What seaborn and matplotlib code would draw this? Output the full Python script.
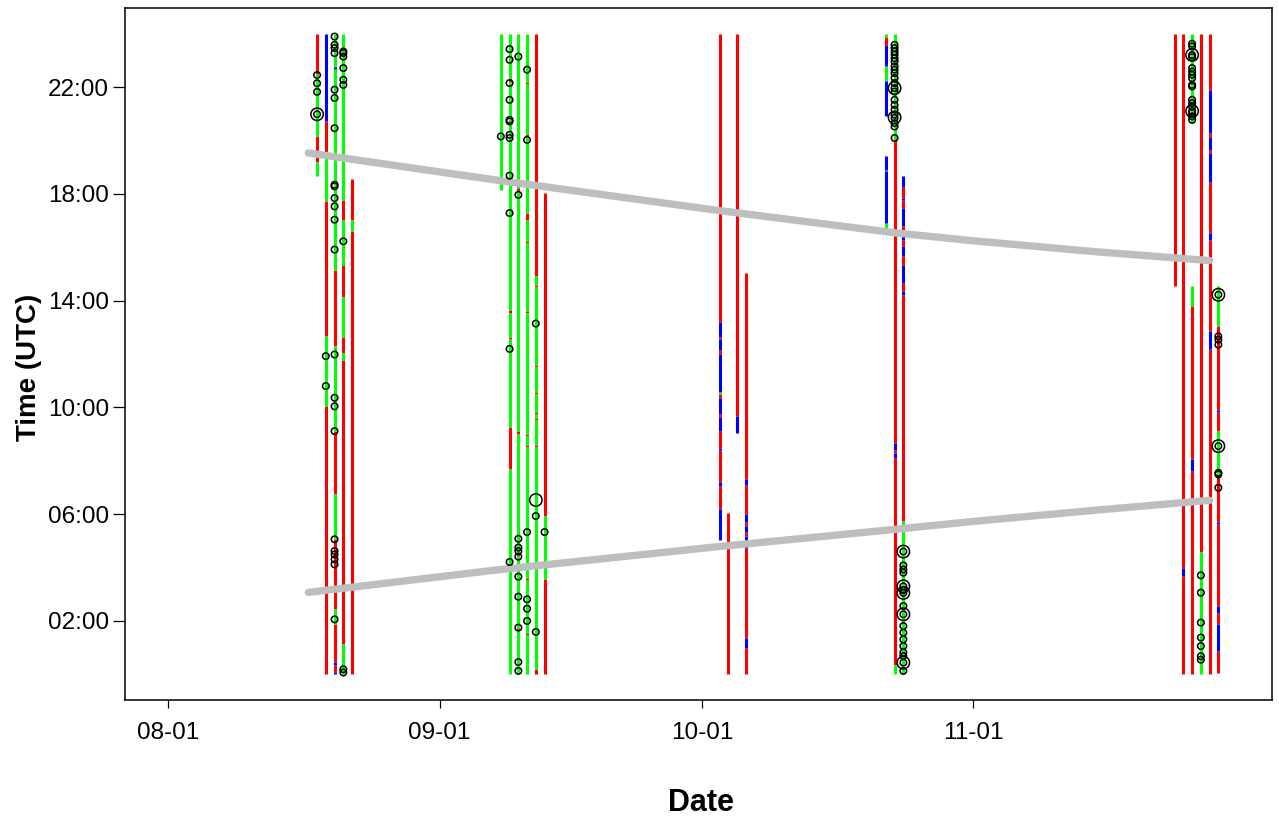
import numpy as np
import pandas as pd
import matplotlib
matplotlib.use("Agg")
import matplotlib.pyplot as plt
import seaborn as sns

YEAR = 2021

# Daily activity columns: hour breakpoints (top to bottom) and the state of each piece
# R = red, G = green, B = blue, '-' = no record
col_dates = [
    "08-18", "08-19", "08-20", "08-21", "08-22",
    "09-08", "09-09", "09-10", "09-11", "09-12", "09-13",
    "10-03", "10-04", "10-05", "10-06",
    "10-22", "10-23", "10-24",
    "11-24", "11-25", "11-26", "11-27", "11-28", "11-29",
]
col_breaks = [
    [24, 22.5, 20.15, 19.2, 18.65],
    [24, 20.71, 19.4, 17.72, 12.66, 10.04, 0],
    [24, 22.75, 22.68, 15.16, 12.29, 9.11, 6.74, 5.06, 2.44, 1.87, 0.45, 0.34, 0.1, 0],
    [24, 17.78, 17.03, 15.34, 14.15, 12.65, 12.05, 11.79, 1.12, 0],
    [18.55, 17.03, 16.59, 0],
    [24, 18.15],
    [24, 22.32, 22.2, 13.65, 13.55, 12.65, 12.55, 9.27, 7.68, 0],
    [24, 18.2, 18.05, 9.1, 9.0, 4.55, 4.45, 1.75, 1.65, 0],
    [24, 22.2, 22.1, 20.25, 20.15, 17.28, 17.03, 16.25, 16.17, 13.6, 13.52,
     9.02, 8.92, 8.61, 8.52, 3.6, 3.52, 1.54, 1.46, 0],
    [24, 14.91, 14.58, 14.5, 11.58, 11.5, 10.59, 10.51, 9.84, 9.76, 9.59, 9.51,
     8.59, 8.51, 0.19, 0],
    [18.03, 5.93, 3.56, 0],
    [24, 13.18, 12.63, 12.55, 12.16, 12.0, 10.59, 10.51, 10.35, 9.75, 9.65, 9.1,
     8.47, 8.39, 7.22, 7.06, 6.2, 5.02],
    [6.06, 0],
    [24, 9.66, 9.03],
    [15.05, 7.3, 7.1, 6.0, 5.7, 5.55, 5.35, 5.2, 4.75, 1.35, 1.0, 0],
    [24, 23.87, 23.58, 22.77, 22.21, 20.9, 19.4, 18.9, 18.84, 16.91, 16.59],
    [24, 20.05, 8.68, 8.4, 8.3, 8.11, 0.35, 0],
    [18.65, 18.27, 17.84, 17.78, 17.46, 16.78, 16.65, 16.28, 16.03, 15.66, 15.35,
     14.66, 14.35, 14.22, 5.75, 0],
    [24, 14.53],
    [24, 4.0, 3.68, 0],
    [24, 20.65, 14.53, 13.79, 8.05, 7.61, 0],
    [24, 4.58, 0],
    [24, 21.89, 20.28, 20.14, 19.64, 19.52, 18.46, 16.54, 16.28, 12.85, 12.17, 0],
    [14.54, 13.04, 9.9, 9.82, 9.11, 7.43, 5.72, 5.64, 2.56, 2.31, 1.87, 0.88, 0.07],
]
col_states = [
    "RGRG", "BRGRGR", "GBGRGRGRGRBRB", "GRGRGRGRG", "RGR",
    "G", "GRGRGRGRG", "GRGRGRGRG", "GRGRGRGRGRGRGRGRGRG", "RGRGRGRGRGRGRGR", "RGR",
    "RBRBRBGRBRBRBRBRB", "R", "RB", "RBRBRBRBRBR",
    "GRBGB-BGBG", "GRBRBRG", "BRBRBRBRBRBRBRG",
    "R", "RBR", "G-GRBR", "RG", "RBRBRBRBRBR", "GRBRGRBRBRBR",
]
state_colors = {"R": "#FF0000", "G": "#00FF00", "B": "#0000FF"}

# Detections: small rings and large rings (date, hour)
ring_dates = (
    ["08-18"] * 4 + ["08-19"] * 2 + ["08-20"] * 23 + ["08-21"] * 9
    + ["09-08"] + ["09-09"] * 12 + ["09-10"] * 11 + ["09-11"] * 6 + ["09-12"] * 3 + ["09-13"]
    + ["10-23"] * 21 + ["10-24"] * 17
    + ["11-26"] * 17 + ["11-27"] * 7 + ["11-29"] * 8
)
ring_hours = [
    22.45, 22.14, 21.82, 20.98,
    11.92, 10.8,
    23.89, 23.58, 23.46, 23.27, 21.90, 21.59, 20.46, 18.34, 18.28, 17.84, 17.53, 17.03,
    15.91, 11.98, 10.36, 10.04, 9.11, 5.06, 4.62, 4.49, 4.31, 4.12, 2.06,
    23.33, 23.27, 23.14, 22.71, 22.27, 22.08, 16.22, 0.19, 0.07,
    20.15,
    23.42, 23.02, 22.15, 21.52, 20.77, 20.71, 20.21, 20.09, 18.68, 17.28, 12.19, 4.21,
    23.14, 17.96, 5.08, 4.75, 4.62, 4.41, 3.66, 2.91, 1.75, 0.46, 0.13,
    22.65, 20.02, 5.33, 2.81, 2.46, 2.0,
    13.14, 5.93, 1.59,
    5.33,
    23.58, 23.46, 23.33, 23.21, 23.08, 22.96, 22.77, 22.65, 22.52, 22.34, 22.15, 21.96,
    21.83, 21.52, 21.33, 21.15, 20.96, 20.84, 20.65, 20.52, 20.09,
    4.6, 4.08, 3.93, 3.81, 3.3, 3.15, 3.05, 2.56, 2.25, 1.81, 1.56, 1.31, 1.06, 0.82,
    0.69, 0.44, 0.13,
    23.62, 23.52, 23.2, 23.12, 22.71, 22.58, 22.46, 22.33, 22.08, 22.02, 21.52, 21.4,
    21.27, 21.1, 21.03, 20.9, 20.77,
    3.71, 3.06, 1.94, 1.38, 1.06, 0.68, 0.55,
    14.22, 12.66, 12.54, 12.35, 8.55, 7.55, 7.49, 6.99,
]
big_ring_dates = ["08-18", "09-12", "10-23", "10-23", "10-24", "10-24", "10-24",
                  "10-24", "10-24", "11-26", "11-26", "11-29", "11-29"]
big_ring_hours = [20.98, 6.53, 21.96, 20.86, 4.6, 3.3, 3.05, 2.25, 0.44,
                  23.2, 21.1, 14.22, 8.55]

# Sunset / sunrise (UTC hours)
sun_dates = ["08-17", "09-08", "10-03", "10-23", "11-01", "11-15", "11-28"]
sunset_hours = [19.53, 18.49, 17.37, 16.54, 16.24, 15.83, 15.50]
sunrise_hours = [3.07, 3.93, 4.79, 5.43, 5.73, 6.15, 6.52]

x_tick_dates = ["08-01", "09-01", "10-01", "11-01"]
x_tick_labels = ["08-01", "09-01", "10-01", "11-01"]
y_ticks = [2, 6, 10, 14, 18, 22]
y_tick_labels = ["02:00", "06:00", "10:00", "14:00", "18:00", "22:00"]


def to_ts(md):
    return pd.Timestamp(f"{YEAR}-{md}")


# ---- tidy frames -------------------------------------------------------------
rows = []
seg_id = 0
for d, br, st in zip(col_dates, col_breaks, col_states):
    for k, s in enumerate(st):
        if s == "-":
            continue
        for h in (br[k], br[k + 1]):
            rows.append({"seg": seg_id, "date": to_ts(d), "hour": h, "state": s})
        seg_id += 1
seg_df = pd.DataFrame(rows)

ring_df = pd.concat([
    pd.DataFrame({"date": [to_ts(d) for d in ring_dates], "hour": ring_hours, "kind": "small"}),
    pd.DataFrame({"date": [to_ts(d) for d in big_ring_dates], "hour": big_ring_hours, "kind": "big"}),
], ignore_index=True)

sun_df = pd.concat([
    pd.DataFrame({"date": [to_ts(d) for d in sun_dates], "hour": sunset_hours, "event": "sunset"}),
    pd.DataFrame({"date": [to_ts(d) for d in sun_dates], "hour": sunrise_hours, "event": "sunrise"}),
], ignore_index=True)

# ---- figure ------------------------------------------------------------------
sns.set_theme(style="white")
plt.rcParams["font.family"] = ["Liberation Sans", "DejaVu Sans"]
plt.rcParams.update({
    "text.color": "black", "axes.labelcolor": "black",
    "xtick.color": "black", "ytick.color": "black",
})

fig = plt.figure(figsize=(12.79, 8.16), dpi=100)
ax = fig.add_axes([125 / 1279, 1 - 700 / 816, 1147 / 1279, 692 / 816])

sns.lineplot(data=seg_df, x="date", y="hour", hue="state", units="seg",
             estimator=None, sort=False, palette=state_colors, linewidth=2.2,
             solid_capstyle="butt", legend=False, ax=ax, zorder=2)

sns.lineplot(data=sun_df, x="date", y="hour", units="event", estimator=None,
             sort=False, color="#BEBEBE", linewidth=5.3, solid_capstyle="round",
             legend=False, ax=ax, zorder=3)

sns.scatterplot(data=ring_df, x="date", y="hour", size="kind",
                sizes={"small": 22, "big": 80}, size_order=["small", "big"],
                marker="o", legend=False, ax=ax, zorder=4)
pts = ax.collections[-1]
pts.set_facecolor("none")
pts.set_edgecolor("black")
pts.set_linewidth(1.1)

origin = to_ts("08-01")
ax.set_xlim(origin - pd.Timedelta(days=4.95), origin + pd.Timedelta(days=126.13))
ax.set_ylim(-0.96, 24.96)

ax.set_xticks([to_ts(d) for d in x_tick_dates])
ax.set_xticklabels(x_tick_labels)
ax.set_yticks(y_ticks)
ax.set_yticklabels(y_tick_labels)

ax.tick_params(axis="x", direction="out", length=5.8, width=0.9, color="black",
               labelsize=17.5, labelcolor="black", pad=10, bottom=True)
ax.tick_params(axis="y", direction="out", length=9.0, width=0.9, color="black",
               labelsize=17.5, labelcolor="black", pad=2.5, left=True)

for sp in ax.spines.values():
    sp.set_visible(True)
    sp.set_color("black")
    sp.set_linewidth(1.1)

ax.set_xlabel("Date", fontsize=22, fontweight="bold", color="black")
ax.set_ylabel("Time (UTC)", fontsize=20, fontweight="bold", color="black")
ax.xaxis.set_label_coords(0.502, -0.127)
ax.yaxis.set_label_coords(-0.072, 0.48)
ax.grid(False)

fig.savefig("out.png", dpi=100, facecolor="white")
